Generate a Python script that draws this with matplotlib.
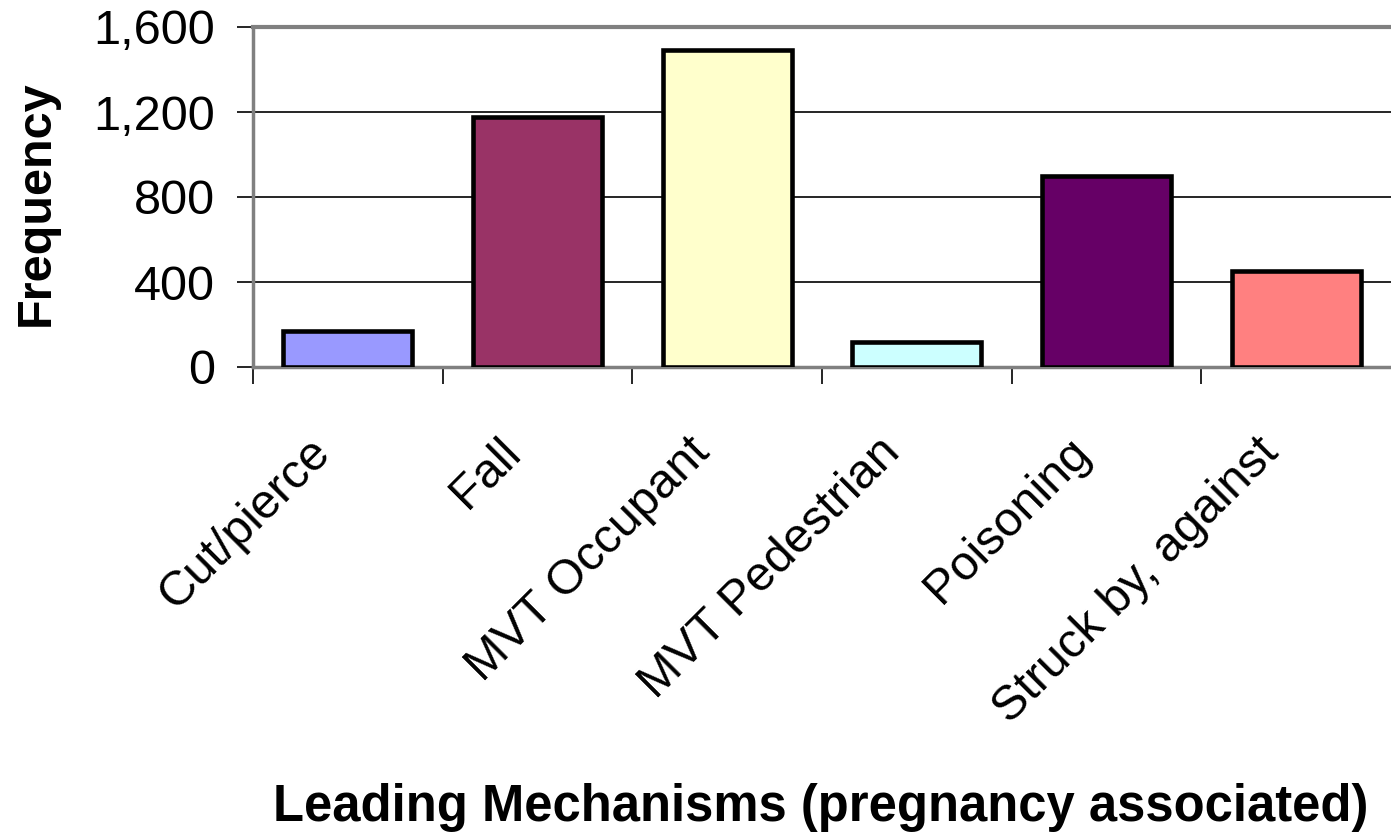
import matplotlib
matplotlib.use("Agg")
import matplotlib.pyplot as plt
from matplotlib.transforms import ScaledTranslation

categories = ["Cut/pierce", "Fall", "MVT Occupant", "MVT Pedestrian", "Poisoning", "Struck by, against"]
values = [170, 1176, 1493, 116, 898, 450]
colors = ["#9999FF", "#993366", "#FFFFCC", "#CCFFFF", "#660066", "#FF8080"]
yticks = [0, 400, 800, 1200, 1600]

plt.rcParams['font.family'] = ['Liberation Sans', 'DejaVu Sans']

fig = plt.figure(figsize=(13.91, 8.39), dpi=100)
ax = fig.add_axes([253/1391, 1-367/839, 1-253/1391, 340/839])

x = list(range(len(categories)))
ax.bar(x, values, width=0.68, color=colors, edgecolor="black", linewidth=3.3, zorder=3)

ax.set_xlim(-0.5, len(categories) - 0.5)
ax.set_ylim(0, 1600)
ax.set_yticks(yticks)
ax.set_yticklabels(["{:,}".format(v) for v in yticks], fontsize=35)
ax.yaxis.grid(True, color="black", linewidth=1.2, zorder=0)

ax.set_xticks([i - 0.5 for i in x], minor=False)
ax.set_xticklabels([])
ax.set_xticks(x, minor=True)
ax.set_xticklabels(categories, minor=True, rotation=45, ha="right", va="top",
                   rotation_mode="anchor", fontsize=35)
ax.tick_params(axis="x", which="minor", length=0, pad=40)
ax.tick_params(axis="x", which="major", length=12, width=1.2, direction="out", color="black")
ax.tick_params(axis="y", length=11.5, width=1.2, color="black", pad=16)

# shift the rotated category labels a little to the left, like the original
shift = ScaledTranslation(-40/100, -7/100, fig.dpi_scale_trans)
for lab in ax.get_xticklabels(minor=True):
    lab.set_transform(lab.get_transform() + shift)

for s in ["left", "bottom", "top"]:
    ax.spines[s].set_color("#808080")
    ax.spines[s].set_linewidth(2.5)
ax.spines["top"].set_linewidth(3)
ax.spines["right"].set_visible(False)

fig.text(0.026, 1-203/839, "Frequency", rotation=90, fontsize=35, fontweight="bold",
         ha="center", va="center")
fig.text(821/1391, 1-807/839, "Leading Mechanisms (pregnancy associated)",
         fontsize=36.5, fontweight="bold", ha="center", va="center")

plt.savefig("out.png", dpi=100)
